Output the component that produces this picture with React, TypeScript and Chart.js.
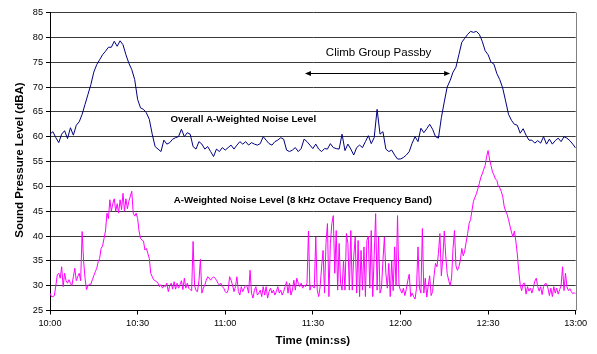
import { useEffect, useRef } from "react";
import { Chart, registerables } from "chart.js";

Chart.register(...registerables);

// ---- axis definitions ----
const START_MINUTE = 10; // x = 0 s corresponds to 10:00
const X_MIN = 0;
const X_MAX = 180;
const X_STEP = 30;
const Y_MIN = 25;
const Y_MAX = 85;
const Y_STEP = 5;

const Y_TITLE = "Sound Pressure Level (dBA)";
const X_TITLE = "Time (min:ss)";

// ---- series: Overall A-weighted level, one sample per second from 10:00 ----
const overallStepSec = 1;
const overallLevel = [
  60.5, 61, 59.8, 58.8, 60.5, 61.2, 59.6, 61.8, 60.3, 62.3, 63,
  64.5, 66.5, 68.5, 70.5, 73, 74.5, 75.5, 76.5, 77.2, 78,
  78, 79.2, 78.2, 79.3, 78.5, 76.5, 74.8, 73.5, 71.5, 67.5,
  65.8, 65.5, 64.8, 63.5, 60.5, 58, 57.5, 57, 59.3, 58.5,
  58.8, 59.5, 59.8, 60, 61.5, 60, 60.8, 60.5, 58, 57.5,
  59, 58.5, 57.5, 58, 57, 56, 57.5, 57, 57.8, 57.3,
  57.8, 58.3, 57.5, 58.3, 59, 58.5, 59, 58.3, 58.8, 58.5,
  58.3, 58.6, 60, 59.3, 58.6, 58.3, 59, 59.3, 59.8, 59.5,
  57.3, 57, 57.3, 57.8, 57, 57.6, 59.5, 59, 58.3, 57.6,
  58.5, 57.5, 57, 57.6, 57.5, 58.6, 57.8, 57.6, 57.5, 60.5,
  57.2, 58.5, 57.5, 56.3, 57.8, 58.3, 57.8, 59, 60.2, 58.6,
  59.8, 65.5, 60.5, 61, 57.5, 57, 57.3, 56.3, 55.5, 55.5,
  55.8, 56.3, 57, 58.7, 60, 59, 61.7, 60.8, 61.6, 62.5,
  61.5, 60, 59.7, 63.8, 67, 70, 71.3, 73, 74, 76.5,
  79, 79.8, 80.6, 81.2, 81, 81.2, 80.6, 79.2, 77.3, 76.5,
  75, 74.6, 72.7, 71.5, 69.8, 67.2, 64.5, 63.3, 62.5, 62.3,
  60.7, 61.6, 60.3, 59.3, 59.3, 58.7, 59.2, 58.7, 60, 58.5,
  59.5, 58.5, 59.2, 59.7, 59, 60, 59.7, 59.2, 58.5, 57.7,
];

// ---- series: 8 kHz octave band A-weighted level, one sample per half second ----
const bandStepSec = 0.5;
const bandLevel = [
  28.5, 27.8, 27.8, 28, 30, 32.2, 32.5, 31.5, 33.8, 29.8,
  32.5, 31, 30.5, 31.2, 30.5, 30, 31.8, 33.5, 31, 31.8,
  32.5, 31, 40.9, 35, 31.5, 29.2, 30, 30.3, 30.3, 31.2,
  32, 32.8, 33.5, 34.8, 35.5, 37.5, 38, 39.5, 41, 44.6,
  43.5, 47.3, 45, 46.5, 47.5, 45, 46.5, 44.6, 47.3, 45.3,
  48.6, 45, 47.5, 45.5, 47, 48, 49, 44.6, 44, 44.6,
  43.5, 41, 39.5, 39.2, 39, 37.2, 37.5, 36.5, 35.5, 32.5,
  31.8, 31.2, 31, 30.8, 30.5, 29.8, 30.2, 29.5, 30, 29.8,
  30.5, 28.8, 30, 30.5, 29.3, 30.8, 29.3, 30.5, 29.5, 30.2,
  31, 29.2, 31.5, 29.5, 30.5, 29.5, 29.2, 29, 38.9, 30,
  29, 28.8, 31, 35.3, 28.5, 29.5, 30.1, 31.1, 31.8, 31.5,
  31.1, 31.5, 31.8, 31.5, 31.1, 30.5, 30.1, 30.5, 29.8, 29.5,
  28.8, 28.5, 29.1, 31.8, 31.1, 30.1, 28.8, 29.8, 31.8, 28.8,
  28.1, 29.8, 28.8, 29.5, 30.1, 29.8, 28.5, 33.1, 28.5, 27.5,
  29.1, 29.8, 28.1, 28.5, 29.1, 27.8, 29.8, 28.1, 29.8, 27.5,
  28.8, 29.5, 28.5, 29.1, 28.1, 28.8, 29.8, 28.5, 29.1, 28.1,
  28.8, 29.8, 30.8, 28.5, 30.5, 28.1, 29.1, 31.1, 29.1, 31.5,
  30.5, 29.8, 30.5, 29.5, 30.1, 29.8, 30.5, 41, 29.1, 30.1,
  29.8, 29.5, 39.8, 29.1, 27.8, 29.8, 33.8, 37.1, 28.5, 38.5,
  42.5, 27.8, 38.5, 42.5, 44.1, 32.5, 41.1, 29.1, 38.5, 30.5,
  29.1, 35.1, 29.1, 40.5, 38.5, 29.1, 41.1, 29.1, 35.8, 39.8,
  28.5, 39.1, 27.8, 37.1, 29.1, 37.8, 27.8, 39.1, 40, 29.5,
  41.1, 27.8, 36, 44.5, 29.1, 39.8, 28.5, 29.5, 35.1, 39.8,
  32.5, 29.5, 34.5, 27.8, 35, 29, 37.8, 30, 44.1, 30,
  29.1, 28.5, 29.5, 28, 29.3, 31, 32.3, 27.8, 28.5, 27.8,
  27.3, 29.5, 37.8, 29.5, 28.5, 41.5, 28.5, 31.5, 27.7, 30,
  32, 28, 28.8, 32, 34.5, 33.8, 36.5, 40.5, 32, 35.5,
  41, 36, 32.4, 31.1, 30, 31.5, 37.5, 41.1, 34, 33.1,
  33.8, 35.1, 37.5, 36, 37, 38.8, 40.5, 42.5, 43.3, 45.2,
  47, 47.8, 48.5, 49.5, 50.6, 51.8, 52.5, 53.4, 54.2, 56,
  57.2, 55.5, 54.2, 52.9, 52.3, 51.5, 51.2, 50, 49.7, 49,
  48, 46, 45, 44.4, 43.3, 42, 40.8, 39.8, 41, 39,
  36.4, 33, 30.2, 29, 30.4, 30.5, 28.3, 29.8, 28.9, 29.5,
  28.5, 29.6, 30.9, 31.5, 29.8, 28.9, 29.8, 28.2, 29.8, 30.4,
  30.4, 29.5, 28, 29.5, 27.8, 29.8, 28.5, 29.5, 28.3, 29.2,
  30, 33.8, 29, 32.5, 29.8, 29, 29.4, 28.8, 28.4, 28.6,
  28.3,
];

// ---- annotations (in data units) ----
const overallLabel = { text: "Overall A-Weighted Noise Level", x: 66.2, y: 63.45 };
const bandLabel = { text: "A-Weighted Noise Level (8 kHz Octave Frequency Band)", x: 86.6, y: 47.15 };
const passbyLabel = { text: "Climb Group Passby", x: 112.5, y: 76.3 };
const passbyArrow = { from: 87.3, to: 137.0, y: 72.75 };

const FONT = "'Liberation Sans', Arial, Helvetica, sans-serif";

function toPoints(values: number[], step: number) {
  return values.map((v, i) => ({ x: i * step, y: v }));
}

function fmtTime(v: number) {
  const m = START_MINUTE + Math.floor(v / 60);
  const s = Math.round(v % 60);
  return `${m}:${s < 10 ? "0" + s : s}`;
}

const overlayPlugin = {
  id: "overlay",
  afterDraw(chart: any) {
    const { ctx, chartArea: a, scales } = chart;
    const xs = scales.x;
    const ys = scales.y;
    ctx.save();
    // plot frame right edge
    ctx.strokeStyle = "#808080";
    ctx.lineWidth = 1;
    const rx = Math.round(a.right) + 0.5;
    ctx.beginPath();
    ctx.moveTo(rx, a.top);
    ctx.lineTo(rx, a.bottom);
    ctx.stroke();

    ctx.fillStyle = "#000";
    // bold in-plot labels
    ctx.font = `bold 9.7px ${FONT}`;
    ctx.textAlign = "center";
    ctx.textBaseline = "middle";
    ctx.fillText(overallLabel.text, xs.getPixelForValue(overallLabel.x), ys.getPixelForValue(overallLabel.y));
    ctx.fillText(bandLabel.text, xs.getPixelForValue(bandLabel.x), ys.getPixelForValue(bandLabel.y));

    // passby label
    ctx.font = `11.5px ${FONT}`;
    ctx.textBaseline = "alphabetic";
    ctx.fillText(passbyLabel.text, xs.getPixelForValue(passbyLabel.x), ys.getPixelForValue(passbyLabel.y));

    // double-headed arrow
    const x1 = xs.getPixelForValue(passbyArrow.from);
    const x2 = xs.getPixelForValue(passbyArrow.to);
    const ay = Math.round(ys.getPixelForValue(passbyArrow.y)) + 0.5;
    ctx.strokeStyle = "#000";
    ctx.lineWidth = 1;
    ctx.beginPath();
    ctx.moveTo(x1 + 3, ay);
    ctx.lineTo(x2 - 3, ay);
    ctx.stroke();
    ctx.beginPath();
    ctx.moveTo(x1, ay);
    ctx.lineTo(x1 + 6, ay - 2.5);
    ctx.lineTo(x1 + 6, ay + 2.5);
    ctx.closePath();
    ctx.fill();
    ctx.beginPath();
    ctx.moveTo(x2, ay);
    ctx.lineTo(x2 - 6, ay - 2.5);
    ctx.lineTo(x2 - 6, ay + 2.5);
    ctx.closePath();
    ctx.fill();

    // axis titles
    ctx.font = `bold 11.5px ${FONT}`;
    ctx.textAlign = "center";
    ctx.textBaseline = "middle";
    ctx.fillText(X_TITLE, (a.left + a.right) / 2, a.bottom + 30.5);
    ctx.translate(a.left - 30, (a.top + a.bottom) / 2 - 1.5);
    ctx.rotate(-Math.PI / 2);
    ctx.fillText(Y_TITLE, 0, 0);
    ctx.restore();
  },
};

export default function App() {
  const canvasRef = useRef<HTMLCanvasElement | null>(null);

  useEffect(() => {
    const canvas = canvasRef.current;
    if (!canvas) return;
    const chart = new Chart(canvas, {
      type: "line",
      data: {
        datasets: [
          {
            label: "Overall A-Weighted Noise Level",
            data: toPoints(overallLevel, overallStepSec),
            borderColor: "#000080",
            borderWidth: 1,
            pointRadius: 0,
            tension: 0,
            fill: false,
          },
          {
            label: "A-Weighted Noise Level (8 kHz Octave Frequency Band)",
            data: toPoints(bandLevel, bandStepSec),
            borderColor: "#FF00FF",
            borderWidth: 1,
            pointRadius: 0,
            tension: 0,
            fill: false,
          },
        ],
      },
      options: {
        animation: false,
        responsive: true,
        maintainAspectRatio: false,
        devicePixelRatio: 1,
        layout: { padding: { top: 12.5, right: 21.3, bottom: 0, left: 0 } },
        plugins: { legend: { display: false }, tooltip: { enabled: false } },
        font: { family: FONT },
        scales: {
          x: {
            type: "linear",
            min: X_MIN,
            max: X_MAX,
            afterFit: (s: any) => {
              s.height = 43.5;
            },
            ticks: {
              stepSize: X_STEP,
              callback: (v: any) => fmtTime(Number(v)),
              color: "#000",
              font: { family: FONT, size: 9.2 },
              padding: 3.5,
              maxRotation: 0,
            },
            grid: {
              drawOnChartArea: false,
              drawTicks: true,
              tickLength: 4,
              tickColor: "#000",
            },
            border: { display: true, color: "#000", width: 1 },
          },
          y: {
            min: Y_MIN,
            max: Y_MAX,
            afterFit: (s: any) => {
              s.width = 50;
            },
            ticks: {
              stepSize: Y_STEP,
              color: "#000",
              font: { family: FONT, size: 9.2 },
              padding: 3,
            },
            grid: {
              color: "#3a3a3a",
              lineWidth: 1,
              drawTicks: true,
              tickLength: 4,
              tickColor: "#000",
            },
            border: { display: true, color: "#000", width: 1 },
          },
        },
      },
      plugins: [overlayPlugin],
    });
    return () => chart.destroy();
  }, []);

  return (
    <div style={{ position: "absolute", left: 0, top: 0, width: 597, height: 354, background: "#fff" }}>
      <canvas ref={canvasRef} />
    </div>
  );
}
